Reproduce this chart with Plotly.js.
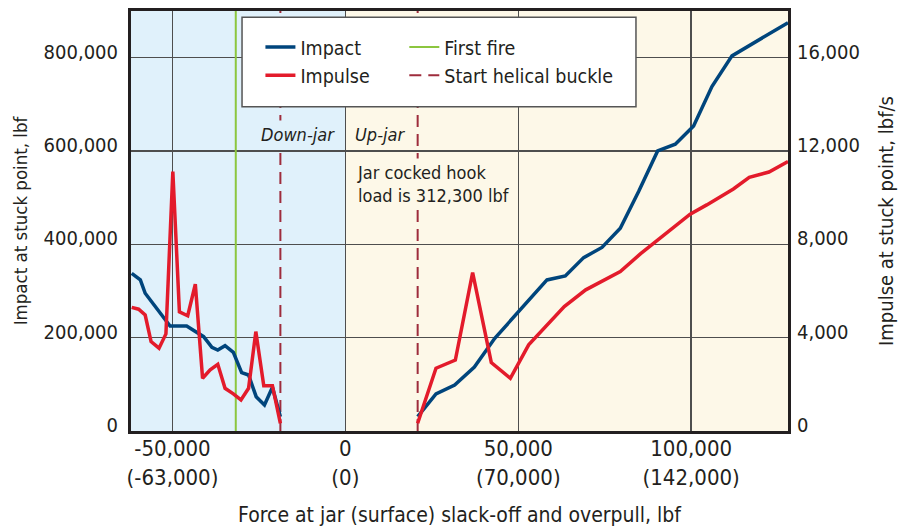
<!DOCTYPE html>
<html>
<head>
<meta charset="utf-8">
<script src="https://cdn.plot.ly/plotly-3.0.1.min.js"></script>
<style>
  html, body { margin: 0; padding: 0; background: #ffffff; }
  #chart { width: 900px; height: 530px; }
</style>
</head>
<body>
<div id="chart"></div>
<script>
// ---- Data ----
// Force at jar, lbf (down-jar side, slack-off)
const impactDownForce = [-61800, -59300, -57900, -50700, -45900, -41000, -38600, -36900, -34800, -32400, -30000, -28000, -25800, -23400, -21100, -18800];
const impactDownLbf   = [338000, 323700, 295200, 225100, 225100, 202100, 179400, 173600, 182900, 168700, 125000, 120000, 73500, 55700, 93600, 30700];
// Force at jar, lbf (up-jar side, overpull)
const impactUpForce = [20900, 26200, 31600, 37300, 43200, 50000, 58300, 63600, 68900, 74200, 79500, 84800, 90300, 95400, 100700, 106000, 111800, 128000];
const impactUpLbf   = [30700, 79300, 98600, 137000, 198700, 255700, 323700, 332300, 371500, 393400, 434500, 513000, 600200, 614600, 653800, 738000, 803800, 875000];

const impulseDownForce = [-61800, -59800, -57900, -56200, -53900, -51900, -49900, -48000, -45600, -43400, -41300, -39100, -36900, -34800, -32400, -30200, -28000, -25900, -23600, -21100, -18800];
const impulseDownVal   = [5300, 5220, 4970, 3830, 3550, 4160, 11120, 5110, 4940, 6290, 2260, 2620, 2860, 1830, 1590, 1330, 1830, 4260, 1940, 1940, 330];
const impulseUpForce = [20900, 26200, 31800, 36800, 42200, 47700, 53000, 63300, 69500, 74600, 79500, 85300, 91000, 99700, 104500, 112200, 116800, 122500, 128000];
const impulseUpVal   = [330, 2690, 3040, 6790, 2930, 2260, 3690, 5330, 6050, 6450, 6830, 7590, 8260, 9290, 9690, 10370, 10870, 11100, 11545];

const firstFireForce = -31700;
const helicalBuckleForce = [-18800, 20900];

const xTickVals = [-50000, 0, 50000, 100000];
const xTickJar = ['-50,000', '0', '50,000', '100,000'];
const xTickSurface = ['(-63,000)', '(0)', '(70,000)', '(142,000)'];
const yTickVals = [0, 200000, 400000, 600000, 800000];
const y2TickVals = [0, 4000, 8000, 12000, 16000];

const xRange = [-62000, 128000];
const yRange = [0, 900000];
const y2Range = [0, 18000];
const downJarSpan = [xRange[0], 0];
const upJarSpan = [0, xRange[1]];

// ---- Styling ----
const FONT = '"Liberation Sans Narrow", "Arial Narrow", "DejaVu Sans Condensed", "Roboto", sans-serif';
const INK = '#231f20';
const BLUE = '#00457c';
const RED = '#e31b2b';
const GREEN = '#8cc63f';
const MAROON = '#9e2c3c';
const GRID = '#4e4e4e';
const DOWN_BG = '#e0f1fb';
const UP_BG = '#fdf8e8';

function join(a, b) { return a.concat([null], b); }

const traces = [
  {
    x: [firstFireForce, firstFireForce], y: yRange,
    mode: 'lines', name: 'First fire', legend: 'legend2', legendgroup: 'g3',
    line: { color: GREEN, width: 2 }, hoverinfo: 'skip'
  },
  {
    x: [helicalBuckleForce[0], helicalBuckleForce[0], null, helicalBuckleForce[1], helicalBuckleForce[1]],
    y: [yRange[0], yRange[1], null, yRange[0], yRange[1]],
    mode: 'lines', name: 'Start helical buckle', legend: 'legend2', legendgroup: 'g4', connectgaps: false,
    line: { color: MAROON, width: 2, dash: '12px,7px' }, hoverinfo: 'skip'
  },
  {
    x: join(impactDownForce, impactUpForce), y: join(impactDownLbf, impactUpLbf),
    mode: 'lines', name: 'Impact', legend: 'legend', legendgroup: 'g1', connectgaps: false,
    line: { color: BLUE, width: 3.5 }
  },
  {
    x: join(impulseDownForce, impulseUpForce), y: join(impulseDownVal, impulseUpVal),
    yaxis: 'y2', mode: 'lines', name: 'Impulse', legend: 'legend', legendgroup: 'g2', connectgaps: false,
    line: { color: RED, width: 3.5 }
  }
];

const layout = {
  width: 900, height: 530,
  margin: { l: 131, r: 112, t: 11, b: 99 },
  paper_bgcolor: '#ffffff',
  plot_bgcolor: '#ffffff',
  font: { family: FONT, color: INK, size: 20 },
  showlegend: true,
  xaxis: {
    range: xRange, tickvals: xTickVals,
    ticktext: xTickVals.map((v, i) => xTickJar[i] + '<br>' + xTickSurface[i]),
    showgrid: true, gridcolor: GRID, gridwidth: 1.5,
    zeroline: false, showline: true, mirror: true, linecolor: INK, linewidth: 3,
    ticks: '', tickfont: { size: 22, color: INK }, ticklabelstandoff: -4,
    title: { text: 'Force at jar (surface) slack-off and overpull, lbf', font: { size: 21, color: INK }, standoff: 19 },
    fixedrange: true
  },
  yaxis: {
    range: yRange, tickvals: yTickVals, tickformat: ',',
    showgrid: true, gridcolor: GRID, gridwidth: 1.5,
    zeroline: false, showline: true, mirror: true, linecolor: INK, linewidth: 3,
    ticks: '', tickfont: { size: 20, color: INK }, ticklabelstandoff: 6, ticklabelshift: -6,
    title: { text: 'Impact at stuck point, lbf', font: { size: 18.5, color: INK }, standoff: 12 },
    fixedrange: true
  },
  yaxis2: {
    range: y2Range, tickvals: y2TickVals, tickformat: ',',
    overlaying: 'y', side: 'right',
    showgrid: false, zeroline: false, showline: false,
    ticks: '', tickfont: { size: 20, color: INK }, ticklabelstandoff: 8, ticklabelshift: -6,
    title: { text: 'Impulse at stuck point, lbf/s', font: { size: 20, color: INK }, standoff: 20 },
    fixedrange: true
  },
  legend: {
    x: 0.197, xanchor: 'left', y: 0.96, yanchor: 'top',
    bgcolor: 'rgba(0,0,0,0)', borderwidth: 0, tracegroupgap: 6,
    font: { size: 19.5, color: INK }, traceorder: 'normal'
  },
  legend2: {
    x: 0.416, xanchor: 'left', y: 0.96, yanchor: 'top',
    bgcolor: 'rgba(0,0,0,0)', borderwidth: 0, tracegroupgap: 6,
    font: { size: 19.5, color: INK }, traceorder: 'normal'
  },
  shapes: [
    { type: 'rect', xref: 'x', yref: 'paper', x0: downJarSpan[0], x1: downJarSpan[1], y0: 0, y1: 1,
      fillcolor: DOWN_BG, line: { width: 0 }, layer: 'below' },
    { type: 'rect', xref: 'x', yref: 'paper', x0: upJarSpan[0], x1: upJarSpan[1], y0: 0, y1: 1,
      fillcolor: UP_BG, line: { width: 0 }, layer: 'below' },
    { type: 'rect', xref: 'paper', yref: 'paper', x0: 0.169, x1: 0.7686, y0: 0.772, y1: 0.985,
      fillcolor: '#ffffff', line: { color: '#555555', width: 1.5 }, layer: 'above' }
  ],
  annotations: [
    { xref: 'x', yref: 'paper', x: 0, y: 0.707, xanchor: 'right', yanchor: 'middle', xshift: -6,
      text: '<i>Down-jar</i>', showarrow: false, bgcolor: DOWN_BG, borderpad: 3, font: { size: 18, color: INK } },
    { xref: 'x', yref: 'paper', x: 0, y: 0.707, xanchor: 'left', yanchor: 'middle', xshift: 6,
      text: '<i>Up-jar</i>', showarrow: false, bgcolor: UP_BG, borderpad: 3, font: { size: 18, color: INK } },
    { xref: 'x', yref: 'paper', x: 0, y: 0.588, xanchor: 'left', yanchor: 'middle', xshift: 8, align: 'left',
      text: 'Jar cocked hook<br>load is 312,300 lbf', showarrow: false, bgcolor: UP_BG, borderpad: 3,
      font: { size: 18, color: INK } }
  ]
};

Plotly.newPlot('chart', traces, layout, { displayModeBar: false, staticPlot: true });
</script>
</body>
</html>
